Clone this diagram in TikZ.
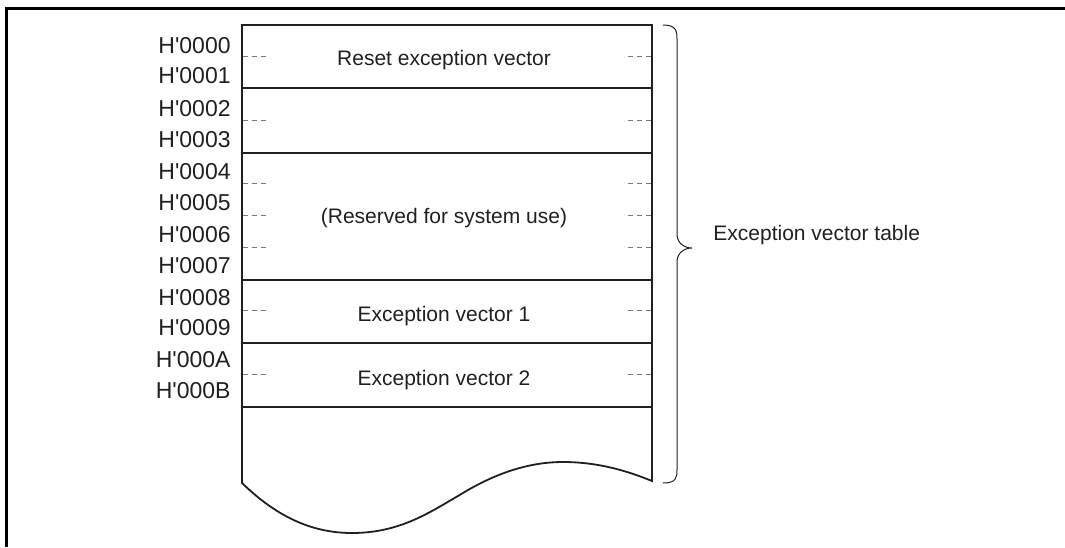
\documentclass[tikz,border=0pt]{standalone}
\usepackage{fontspec}
\setmainfont{Liberation Sans}
\usepackage{xcolor}
\definecolor{ink}{HTML}{231F20}
\definecolor{tick}{HTML}{7A7A7A}
\newcommand{\hx}[1]{H\textquotesingle#1}
\tikzset{
  addr/.style={anchor=base east,inner sep=0pt,text=ink,font=\fontsize{11.5}{14}\selectfont},
  cell/.style={anchor=base,inner sep=0pt,text=ink,font=\fontsize{10.5}{13}\selectfont},
  tab/.style={draw=ink,line width=0.9pt},
  tickline/.style={draw=tick,line width=0.55pt,dash pattern=on 2.6pt off 1.9pt}
}

\begin{document}
\begin{tikzpicture}[x=0.5pt,y=-0.5pt]
		\useasboundingbox (0,0) rectangle (1065,547);
		% frame
		\draw[line width=1.5pt] (6,547) -- (6,8.5) -- (1065,8.5);
		% memory table
		\draw[tab] (242,483) .. controls (275,515) and (310,533) .. (352,533)
		  .. controls (400,533) and (430,512) .. (458,496)
		  .. controls (490,476) and (525,462) .. (563,462)
		  .. controls (600,462) and (630,472) .. (652,481)
		  -- (652,25) -- (242,25) -- cycle;
		\draw[tab] (242,88) -- (652,88);
		\draw[tab] (242,153) -- (652,153);
		\draw[tab] (242,280) -- (652,280);
		\draw[tab] (242,343) -- (652,343);
		\draw[tab] (242,407) -- (652,407);
		% word boundaries
		\foreach \y in {56.75,120.25,183.75,215.5,247.25,310.75,374.25} {
		  \draw[tickline] (243,\y) -- (269,\y);
		  \draw[tickline] (651,\y) -- (624,\y);
		}
		% addresses
		\node[addr] (a0) at (231,53) {\hx{0000}};
		\node[addr] (a1) at (231,83) {\hx{0001}};
		\node[addr] (a2) at (231,116) {\hx{0002}};
		\node[addr] (a3) at (231,147) {\hx{0003}};
		\node[addr] (a4) at (231,179) {\hx{0004}};
		\node[addr] (a5) at (231,210) {\hx{0005}};
		\node[addr] (a6) at (231,242) {\hx{0006}};
		\node[addr] (a7) at (231,273) {\hx{0007}};
		\node[addr] (a8) at (231,305) {\hx{0008}};
		\node[addr] (a9) at (231,335) {\hx{0009}};
		\node[addr] (aA) at (231,367) {\hx{000A}};
		\node[addr] (aB) at (231,398) {\hx{000B}};
		% cells
		\node[cell] (rst) at (444,65) {Reset exception vector};
		\node[cell] (rsv) at (444,223) {(Reserved for system use)};
		\node[cell] (ev1) at (444,321) {Exception vector 1};
		\node[cell] (ev2) at (444,385) {Exception vector 2};
		% brace
		\draw[draw=ink,line width=0.5pt] (663,25) .. controls (677,25) and (677,32) .. (677,40)
		  -- (677,234) .. controls (677,243) and (684,248) .. (692,248)
		  .. controls (684,248) and (677,253) .. (677,262)
		  -- (677,469) .. controls (677,477) and (677,483) .. (663,483);
		\node[cell,anchor=base west] (evt) at (713,240) {Exception vector table};
\end{tikzpicture}
\end{document}
